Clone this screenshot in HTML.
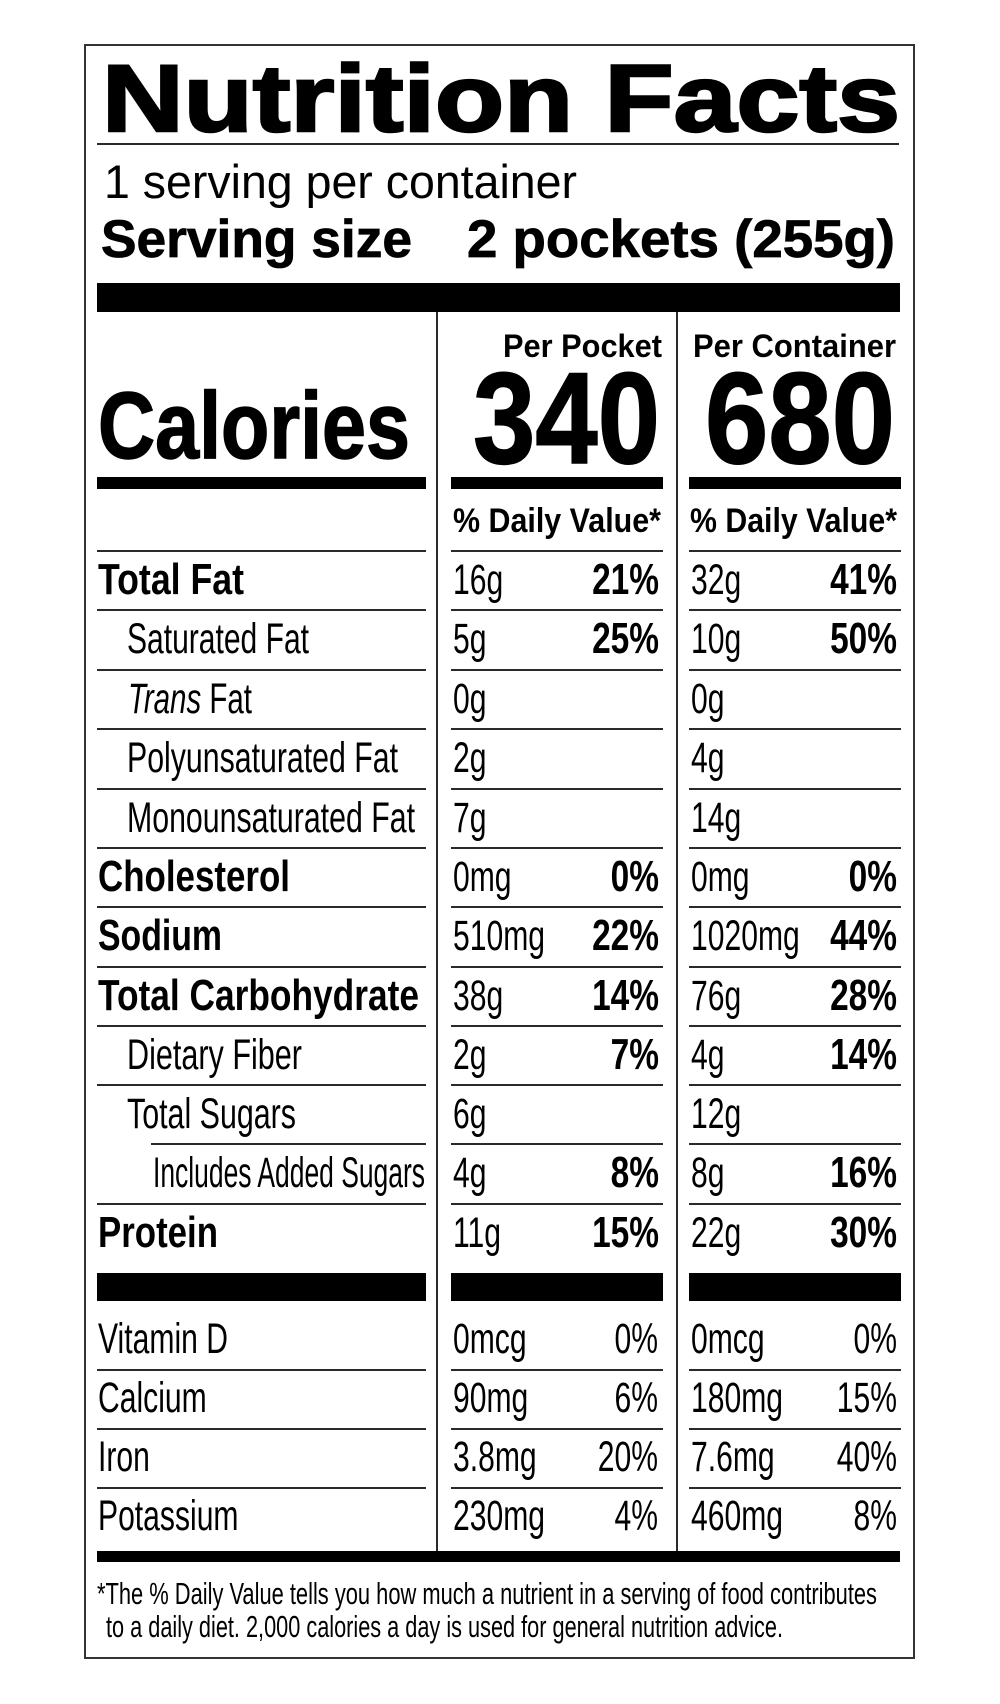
<!DOCTYPE html>
<html>
<head>
<meta charset="utf-8">
<style>
  html,body{margin:0;padding:0;background:#fff;}
  svg{display:block;}
  text{font-family:"Liberation Sans",Arial,sans-serif;fill:#000;}
  .r{font-size:43px;font-weight:400;}
  .b{font-size:44px;font-weight:700;}
  .ln{fill:#2a2a2a;}
  .bar{fill:#000;}
</style>
</head>
<body>
<svg width="1000" height="1704" viewBox="0 0 1000 1704" xmlns="http://www.w3.org/2000/svg">
  <rect x="0" y="0" width="1000" height="1704" fill="#fff"/>
  <!-- outer box -->
  <rect x="85" y="45" width="829" height="1613" fill="none" stroke="#333" stroke-width="2"/>

  <!-- header -->
  <text x="102" y="131" font-size="95" font-weight="700" textLength="798" lengthAdjust="spacingAndGlyphs" stroke="#000" stroke-width="2.5">Nutrition Facts</text>
  <rect class="ln" x="97" y="143" width="802" height="2"/>
  <text x="104" y="198" font-size="47" textLength="473" lengthAdjust="spacingAndGlyphs">1 serving per container</text>
  <text x="101" y="257" font-size="53" font-weight="700" textLength="311" lengthAdjust="spacingAndGlyphs" stroke="#000" stroke-width="0.8">Serving size</text>
  <text x="467" y="257" font-size="53" font-weight="700" textLength="428" lengthAdjust="spacingAndGlyphs" stroke="#000" stroke-width="0.8">2 pockets (255g)</text>

  <rect class="bar" x="97" y="283" width="803" height="29"/>

  <!-- dividers -->
  <rect class="ln" x="436" y="312" width="2" height="1240"/>
  <rect class="ln" x="676" y="312" width="2" height="1240"/>

  <!-- calories -->
  <text x="98" y="458" font-size="95" font-weight="700" textLength="312" lengthAdjust="spacingAndGlyphs" stroke="#000" stroke-width="1.5">Calories</text>
  <text x="503" y="357" font-size="32" font-weight="700" textLength="159" lengthAdjust="spacingAndGlyphs">Per Pocket</text>
  <text x="693" y="357" font-size="32" font-weight="700" textLength="203" lengthAdjust="spacingAndGlyphs">Per Container</text>
  <text x="473" y="463" font-size="130" font-weight="700" textLength="187" lengthAdjust="spacingAndGlyphs" stroke="#000" stroke-width="1.5">340</text>
  <text x="705" y="463" font-size="130" font-weight="700" textLength="190" lengthAdjust="spacingAndGlyphs" stroke="#000" stroke-width="1.5">680</text>

  <rect class="bar" x="97" y="477" width="329" height="12"/>
  <rect class="bar" x="451" y="477" width="212" height="12"/>
  <rect class="bar" x="689" y="477" width="212" height="12"/>

  <text x="453" y="532" font-size="34" font-weight="700" textLength="208" lengthAdjust="spacingAndGlyphs">% Daily Value*</text>
  <text x="690" y="532" font-size="34" font-weight="700" textLength="207" lengthAdjust="spacingAndGlyphs">% Daily Value*</text>

  <!-- row lines -->
  <g class="ln">
    <rect x="97" y="550" width="329" height="2"/><rect x="451" y="550" width="212" height="2"/><rect x="689" y="550" width="212" height="2"/>
    <rect x="97" y="609" width="329" height="2"/><rect x="451" y="609" width="212" height="2"/><rect x="689" y="609" width="212" height="2"/>
    <rect x="97" y="669" width="329" height="2"/><rect x="451" y="669" width="212" height="2"/><rect x="689" y="669" width="212" height="2"/>
    <rect x="97" y="728" width="329" height="2"/><rect x="451" y="728" width="212" height="2"/><rect x="689" y="728" width="212" height="2"/>
    <rect x="97" y="788" width="329" height="2"/><rect x="451" y="788" width="212" height="2"/><rect x="689" y="788" width="212" height="2"/>
    <rect x="97" y="847" width="329" height="2"/><rect x="451" y="847" width="212" height="2"/><rect x="689" y="847" width="212" height="2"/>
    <rect x="97" y="906" width="329" height="2"/><rect x="451" y="906" width="212" height="2"/><rect x="689" y="906" width="212" height="2"/>
    <rect x="97" y="966" width="329" height="2"/><rect x="451" y="966" width="212" height="2"/><rect x="689" y="966" width="212" height="2"/>
    <rect x="97" y="1025" width="329" height="2"/><rect x="451" y="1025" width="212" height="2"/><rect x="689" y="1025" width="212" height="2"/>
    <rect x="97" y="1084" width="329" height="2"/><rect x="451" y="1084" width="212" height="2"/><rect x="689" y="1084" width="212" height="2"/>
    <rect x="151" y="1143" width="275" height="2"/><rect x="451" y="1143" width="212" height="2"/><rect x="689" y="1143" width="212" height="2"/>
    <rect x="97" y="1203" width="329" height="2"/><rect x="451" y="1203" width="212" height="2"/><rect x="689" y="1203" width="212" height="2"/>
    <rect x="97" y="1369" width="329" height="2"/><rect x="451" y="1369" width="212" height="2"/><rect x="689" y="1369" width="212" height="2"/>
    <rect x="97" y="1428" width="329" height="2"/><rect x="451" y="1428" width="212" height="2"/><rect x="689" y="1428" width="212" height="2"/>
    <rect x="97" y="1487" width="329" height="2"/><rect x="451" y="1487" width="212" height="2"/><rect x="689" y="1487" width="212" height="2"/>
  </g>

  <!-- labels -->
  <text class="b" x="98" y="594" textLength="146" lengthAdjust="spacingAndGlyphs">Total Fat</text>
  <text class="r" x="127" y="653" textLength="182" lengthAdjust="spacingAndGlyphs">Saturated Fat</text>
  <text class="r" x="128" y="713" textLength="124" lengthAdjust="spacingAndGlyphs"><tspan font-style="italic">Trans</tspan> Fat</text>
  <text class="r" x="127" y="772" textLength="271" lengthAdjust="spacingAndGlyphs">Polyunsaturated Fat</text>
  <text class="r" x="127" y="832" textLength="288" lengthAdjust="spacingAndGlyphs">Monounsaturated Fat</text>
  <text class="b" x="98" y="891" textLength="192" lengthAdjust="spacingAndGlyphs">Cholesterol</text>
  <text class="b" x="98" y="950" textLength="124" lengthAdjust="spacingAndGlyphs">Sodium</text>
  <text class="b" x="98" y="1010" textLength="321" lengthAdjust="spacingAndGlyphs">Total Carbohydrate</text>
  <text class="r" x="127" y="1069" textLength="175" lengthAdjust="spacingAndGlyphs">Dietary Fiber</text>
  <text class="r" x="127" y="1128" textLength="169" lengthAdjust="spacingAndGlyphs">Total Sugars</text>
  <text class="r" x="153" y="1187" textLength="272" lengthAdjust="spacingAndGlyphs">Includes Added Sugars</text>
  <text class="b" x="98" y="1247" textLength="120" lengthAdjust="spacingAndGlyphs">Protein</text>

  <!-- per pocket amounts -->
  <g class="r">
    <text transform="translate(453 594) scale(0.70 1)">16g</text>
    <text transform="translate(453 653) scale(0.70 1)">5g</text>
    <text transform="translate(453 713) scale(0.70 1)">0g</text>
    <text transform="translate(453 772) scale(0.70 1)">2g</text>
    <text transform="translate(453 832) scale(0.70 1)">7g</text>
    <text transform="translate(453 891) scale(0.70 1)">0mg</text>
    <text transform="translate(453 950) scale(0.70 1)">510mg</text>
    <text transform="translate(453 1010) scale(0.70 1)">38g</text>
    <text transform="translate(453 1069) scale(0.70 1)">2g</text>
    <text transform="translate(453 1128) scale(0.70 1)">6g</text>
    <text transform="translate(453 1187) scale(0.70 1)">4g</text>
    <text transform="translate(453 1247) scale(0.70 1)">11g</text>
  </g>
  <g class="r">
    <text transform="translate(691 594) scale(0.70 1)">32g</text>
    <text transform="translate(691 653) scale(0.70 1)">10g</text>
    <text transform="translate(691 713) scale(0.70 1)">0g</text>
    <text transform="translate(691 772) scale(0.70 1)">4g</text>
    <text transform="translate(691 832) scale(0.70 1)">14g</text>
    <text transform="translate(691 891) scale(0.70 1)">0mg</text>
    <text transform="translate(691 950) scale(0.70 1)">1020mg</text>
    <text transform="translate(691 1010) scale(0.70 1)">76g</text>
    <text transform="translate(691 1069) scale(0.70 1)">4g</text>
    <text transform="translate(691 1128) scale(0.70 1)">12g</text>
    <text transform="translate(691 1187) scale(0.70 1)">8g</text>
    <text transform="translate(691 1247) scale(0.70 1)">22g</text>
  </g>

  <!-- bold percents -->
  <g class="b" text-anchor="end">
    <text transform="translate(659 594) scale(0.76 1)">21%</text>
    <text transform="translate(659 653) scale(0.76 1)">25%</text>
    <text transform="translate(659 891) scale(0.76 1)">0%</text>
    <text transform="translate(659 950) scale(0.76 1)">22%</text>
    <text transform="translate(659 1010) scale(0.76 1)">14%</text>
    <text transform="translate(659 1069) scale(0.76 1)">7%</text>
    <text transform="translate(659 1187) scale(0.76 1)">8%</text>
    <text transform="translate(659 1247) scale(0.76 1)">15%</text>

    <text transform="translate(897 594) scale(0.76 1)">41%</text>
    <text transform="translate(897 653) scale(0.76 1)">50%</text>
    <text transform="translate(897 891) scale(0.76 1)">0%</text>
    <text transform="translate(897 950) scale(0.76 1)">44%</text>
    <text transform="translate(897 1010) scale(0.76 1)">28%</text>
    <text transform="translate(897 1069) scale(0.76 1)">14%</text>
    <text transform="translate(897 1187) scale(0.76 1)">16%</text>
    <text transform="translate(897 1247) scale(0.76 1)">30%</text>
  </g>

  <!-- thick bars before vitamins -->
  <rect class="bar" x="97" y="1273" width="329" height="28"/>
  <rect class="bar" x="451" y="1273" width="212" height="28"/>
  <rect class="bar" x="689" y="1273" width="212" height="28"/>

  <!-- vitamins -->
  <g class="r">
    <text x="98" y="1353" textLength="130" lengthAdjust="spacingAndGlyphs">Vitamin D</text>
    <text transform="translate(98 1412) scale(0.70 1)">Calcium</text>
    <text transform="translate(98 1471) scale(0.70 1)">Iron</text>
    <text transform="translate(98 1530) scale(0.70 1)">Potassium</text>

    <text transform="translate(453 1353) scale(0.70 1)">0mcg</text>
    <text transform="translate(453 1412) scale(0.70 1)">90mg</text>
    <text transform="translate(453 1471) scale(0.70 1)">3.8mg</text>
    <text transform="translate(453 1530) scale(0.70 1)">230mg</text>

    <text transform="translate(691 1353) scale(0.70 1)">0mcg</text>
    <text transform="translate(691 1412) scale(0.70 1)">180mg</text>
    <text transform="translate(691 1471) scale(0.70 1)">7.6mg</text>
    <text transform="translate(691 1530) scale(0.70 1)">460mg</text>
  </g>
  <g class="r" text-anchor="end">
    <text transform="translate(658 1353) scale(0.70 1)">0%</text>
    <text transform="translate(658 1412) scale(0.70 1)">6%</text>
    <text transform="translate(658 1471) scale(0.70 1)">20%</text>
    <text transform="translate(658 1530) scale(0.70 1)">4%</text>

    <text transform="translate(897 1353) scale(0.70 1)">0%</text>
    <text transform="translate(897 1412) scale(0.70 1)">15%</text>
    <text transform="translate(897 1471) scale(0.70 1)">40%</text>
    <text transform="translate(897 1530) scale(0.70 1)">8%</text>
  </g>

  <!-- bottom bar -->
  <rect class="bar" x="97" y="1551" width="803" height="11"/>

  <!-- footnote -->
  <text x="97" y="1604" font-size="31" textLength="780" lengthAdjust="spacingAndGlyphs">*The % Daily Value tells you how much a nutrient in a serving of food contributes</text>
  <text x="106" y="1637" font-size="31" textLength="677" lengthAdjust="spacingAndGlyphs">to a daily diet. 2,000 calories a day is used for general nutrition advice.</text>
</svg>
</body>
</html>
